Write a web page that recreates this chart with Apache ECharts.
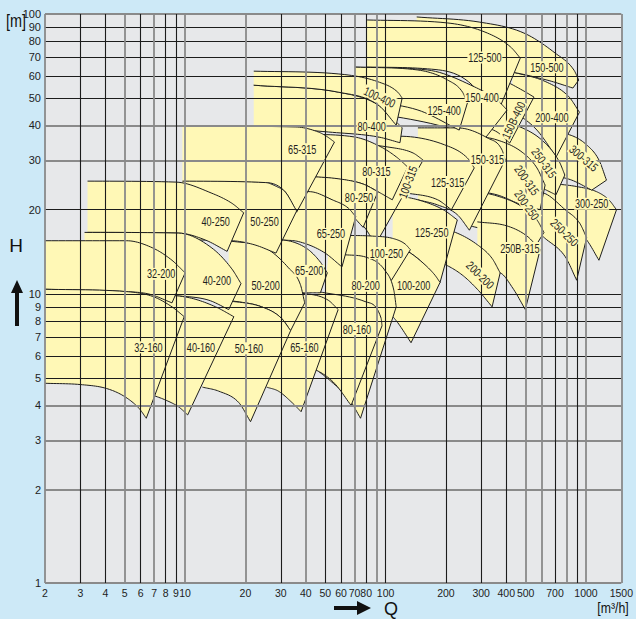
<!DOCTYPE html>
<html><head><meta charset="utf-8">
<script src="https://cdn.jsdelivr.net/npm/echarts@6/dist/echarts.min.js"></script>
<style>html,body{margin:0;padding:0;background:#cde9f7;}#c{width:636px;height:619px;}</style>
</head><body><div id="c"></div>
<script>
// ---------- axis ticks ----------
const xDarkLines = [3,4,6,8,9,30,50,60,80,100,200,300,400,700,900];
const xLightLines = [2,5,7,10,20,40,70,90,500,600,800,1000,1500];
const xLabelValues = [2,3,4,5,6,7,8,9,10,20,30,40,50,60,70,80,100,200,300,400,500,700,1000,1500];
const yDarkLines = [5,6,7,8,9,10,20,50,60,70,80,90];
const yLightLines = [1,2,3,4,30,40,100];
const yLabelValues = [1,2,3,4,5,6,7,8,9,10,20,30,40,50,60,70,80,90,100];

// ---------- pump operating fields: Q [m3/h], H [m] ----------
const names = ['32-160','32-200','40-160','40-200','40-250','50-160','50-200','50-250','65-160','65-200','65-250','65-315',
 '80-160','80-200','80-250','80-315','100-315','100-250','100-200','125-250','125-315','150-315','200-200','200-250',
 '250B-315','250-250','300-250','300-315','250-315','200-315','80-400','100-400','125-400','150-400','150B-400','200-400','125-500','150-500'];
const tops = [
 [[2,10.4],[5.1,10.2],[6.9,9.8],[8.6,9.0],[9.9,8.3]],
 [[2,15.5],[5.1,15.5],[6.9,14.6],[8.6,13.2],[10.0,11.9]],
 [[6.6,10.0],[10.5,9.7],[14.2,9.0],[17.5,8.3]],
 [[3.15,16.6],[9.3,16.5],[13.6,14.6],[17.1,12.3],[19.0,10.9]],
 [[3.26,25.3],[9.0,25.1],[13.6,22.9],[17.1,21.1],[19.6,19.5]],
 [[15.6,9.5],[24.1,9.0],[30.2,8.2],[33.6,7.4]],
 [[16.5,15.5],[25.2,14.6],[32.8,12.4],[37.6,10.8],[39.5,9.3]],
 [[9.7,25.3],[25.2,25.0],[28.6,24.2],[31.5,23.2],[36.0,19.8]],
 [[30.6,10.1],[41.2,10.0],[51.8,9.5],[58,8.8]],
 [[24.6,15.6],[29.5,15.6],[40.1,14.6],[47.3,13.0],[51.2,11.9]],
 [[30.6,23.3],[42.1,23.2],[54.2,21.7],[65,20.3],[71,18.9]],
 [[9.7,39.8],[35.7,39.5],[46.2,37.9],[50.7,36.6],[55.6,34.9]],
 [[46.2,10.2],[79,9.4],[95,8.2],[96,7.7]],
 [[51.8,13.9],[63.5,13.8],[80.9,13.5],[98.8,12.2],[110,10.3],[113,9.0]],
 [[36.7,26.4],[58,25.8],[77.3,24.7],[91.6,23.2]],
 [[36.7,37.3],[69.6,36.4],[95,33.5],[115,30.6],[129,28.4]],
 [[51.8,34.9],[102.7,33.5],[137,31.9],[154,30.1]],
 [[61.5,16.2],[86,16.1],[108.5,15.8],[125,15.1],[133,14.4]],
 [[99,14.8],[124,14.4],[152,13.0],[176,11.7],[187,11.0]],
 [[108.5,22.6],[145,21.7],[194,20.0],[228,18.4]],
 [[91.6,36.4],[117,36.6],[197,34.1],[256,30.6],[277,28.2]],
 [[145,39.2],[228,39.2],[322,36.1],[381,32.7],[395,30.1]],
 [[182,17.2],[223,16.6],[287,15.0],[340,13.4],[373,11.9]],
 [[256,23.5],[360,22.4],[480,20.5],[569,18.4],[617,16.6]],
 [[287,18.1],[404,17.5],[508,16.1],[590,14.4]],
 [[453,23.5],[618,22.9],[787,20.0],[930,17.9],[1007,15.9]],
 [[638,24.9],[898,24.2],[1129,23.2],[1300,21.7],[1419,20.0]],
 [[676,37.6],[830,37.0],[1007,34.1],[1160,30.1],[1265,25.5]],
 [[322,41.8],[469,39.5],[617,34.9],[737,29.6],[784,26.6]],
 [[256,37.0],[360,35.5],[480,32.1],[569,28.2],[625,24.5]],
 [[22,55.7],[58,52.6],[91.6,47.4],[113,41.2],[121,39.2]],
 [[22,62.5],[58,61.1],[91.6,57.3],[115,52.6],[121,50.1]],
 [[70.5,64.6],[145,63.1],[204,58.1],[242,52.6],[256,48.1]],
 [[70.5,64.6],[162,63.1],[278,54.9],[360,49.3],[404,45.4]],
 [[287,60.5],[381,58.1],[480,53.5],[550,50.5]],
 [[430,62.1],[630,57.3],[822,50.6],[927,44.6]],
 [[80.9,95.2],[204,92.9],[322,85.5],[421,76.2],[470,69.6]],
 [[143,97.6],[293,93.6],[490,85.5],[700,72.6],[870,63.1],[920,58.1]]
];
const bots = [
 [[2,4.8],[3.0,4.75],[4.05,4.6],[5.0,4.3],[5.9,3.9],[6.4,3.6]],
 [[2,10.4],[5.1,10.2],[6.6,10.0],[8.6,9.3]],
 [[6.6,4.4],[8.0,4.18],[9.3,3.95],[10.3,3.7]],
 [[3.15,10.0],[10.0,9.8],[13.15,9.5],[16.5,8.8]],
 [[3.26,16.6],[9.3,16.5],[12.6,15.6],[16.2,14.2]],
 [[12.2,4.65],[14.7,4.5],[18.5,4.1],[21.2,3.5]],
 [[16.5,9.5],[24.1,9.0],[30.2,8.2],[33.6,7.4]],
 [[9.7,15.6],[17.1,15.5],[22.1,15.0],[28.4,14.0]],
 [[25.5,4.65],[29.2,4.5],[34.1,4.1],[37.9,3.8]],
 [[24.6,10.1],[30.6,10.1],[39.4,10.1],[47.3,10.1]],
 [[30.2,15.6],[36.7,15.4],[49.2,14.1],[60.6,12.5]],
 [[9.7,25.1],[25.2,25.0],[31.5,23.2],[36.0,19.6]],
 [[38.5,5.5],[46.2,5.3],[55.6,4.8],[67.3,4.0]],
 [[46.2,5.3],[53,4.9],[66,4.2],[75,3.6]],
 [[36.7,23.3],[51.8,22.0],[65,19.7],[77.3,17.3]],
 [[36.7,26.4],[58,25.7],[77.3,24.7],[91.6,23.2],[108,21.7]],
 [[51.8,20.8],[65,19.7],[79,17.2],[89,15.0]],
 [[61.5,13.0],[81.7,12.3],[107,11.2]],
 [[99,8.8],[107,8.4],[115,7.9],[134,6.7]],
 [[108.5,14.7],[124,14.4],[152,13.0],[187,11.0]],
 [[91.6,23.5],[129,22.9],[182,21.7],[213,20.0]],
 [[145,21.7],[182,20.8],[228,19.2],[262,16.9]],
 [[182,13.0],[200,12.7],[241,11.7],[287,10.4],[340,9.0]],
 [[256,17.6],[360,16.6],[480,15.6],[569,15.1]],
 [[287,12.2],[373,11.9],[431,10.5],[498,8.8]],
 [[453,17.6],[557,16.9],[625,15.8],[787,13.6],[898,11.2]],
 [[638,19.7],[802,18.1],[1007,15.6],[1160,13.2]],
 [[676,26.6],[850,25.5],[1068,23.5]],
 [[322,27.7],[453,26.0],[603,23.9],[708,22.6]],
 [[256,23.5],[360,22.6],[480,20.8],[590,20.0]],
 [[22,39.8],[51.8,37.9],[91.6,36.4],[118,34.7]],
 [[22,55.7],[58,52.6],[91.6,47.4],[113,40.1]],
 [[70.5,49.3],[145,45.4],[233,38.5]],
 [[70.5,45.4],[182,40.1],[309,35.5]],
 [[287,40.1],[360,37.9],[416,34.6]],
 [[430,45.4],[569,38.5],[710,30.9]],
 [[80.9,64.6],[162,63.7],[271,55.7],[350,41.8]],
 [[143,64.6],[360,63.1],[638,58.1],[860,54.4]]
];
// label anchor [Q, H] and text angle (deg, counter-clockwise)
const labelAt = [[6.56,6.45],[7.6,11.8],[12.0,6.45],[14.4,11.2],[14.2,18.1],[20.8,6.4],[25.2,10.7],[24.9,18.1],[39.4,6.45],[41.6,12.1],[53.4,16.4],[38.4,32.9],
 [72,7.5],[79.5,10.7],[73.7,22.2],[90,27.3],[129,25.1],[101,14.0],[138,10.7],[170,16.6],[204,25.1],[322,30.2],[297,11.7],[508,20.8],
 [468,14.6],[782,16.6],[1067,21.0],[975,30.6],[618,29.4],[508,25.5],[85.2,39.8],[93.5,50.5],[196,45.4],[303,50.5],[434,41.8],[676,42.8],[313,70],[638,64.6]];
const labelRot = [0,0,0,0,0,0,0,0,0,0,0,0, 0,0,0,0,70,0,0,0,0,0,-45,-55, 0,-45,0,-40,-55,-55,0,-25,0,0,65,0,0,0];

// ---------- styles ----------
const YELLOW = '#fff8b6', PLOT = '#e7e8ea', BG = '#cde9f7';
const DARK = '#1c1c1c', LIGHT = '#8a8a8a';
const FONT = "'Liberation Sans',Arial,sans-serif";
const NARROW_X = 0.76;
const lg = Math.log10;
const X_MIN = lg(2), X_MAX = lg(1500), Y_MIN = -0.032, Y_MAX = 2;
const yPos = v => v === 1 ? Y_MIN : lg(v);
const fmt = v => String(Math.round(Math.pow(10, v)));

function monoSample(pts, steps) {
  const n = pts.length;
  if (n < 3) return pts.slice();
  const xs = pts.map(p => p[0]), ys = pts.map(p => p[1]);
  const d = [], m = new Array(n);
  for (let i = 0; i < n - 1; i++) { const dx = xs[i+1] - xs[i]; d.push(Math.abs(dx) < 1e-6 ? 0 : (ys[i+1] - ys[i]) / dx); }
  m[0] = d[0]; m[n-1] = d[n-2];
  for (let i = 1; i < n - 1; i++) m[i] = (d[i-1] * d[i] <= 0) ? 0 : (d[i-1] + d[i]) / 2;
  for (let i = 0; i < n - 1; i++) {
    if (d[i] === 0) { m[i] = 0; m[i+1] = 0; continue; }
    const a = m[i] / d[i], b = m[i+1] / d[i], s = a*a + b*b;
    if (s > 9) { const t = 3 / Math.sqrt(s); m[i] = t*a*d[i]; m[i+1] = t*b*d[i]; }
  }
  const out = [];
  for (let i = 0; i < n - 1; i++) {
    const h = xs[i+1] - xs[i];
    for (let k = 0; k < steps; k++) {
      const t = k / steps, t2 = t*t, t3 = t2*t;
      out.push([xs[i] + t*h, (2*t3-3*t2+1)*ys[i] + (t3-2*t2+t)*h*m[i] + (-2*t3+3*t2)*ys[i+1] + (t3-t2)*h*m[i+1]]);
    }
  }
  out.push(pts[n-1]);
  return out;
}

const order = names.map((_, i) => i).sort((a, b) => tops[b][tops[b].length-1][0] - tops[a][tops[a].length-1][0]);

const chart = echarts.init(document.getElementById('c'), null, {renderer: 'svg'});
chart.setOption({
  backgroundColor: BG,
  animation: false,
  grid: {left: 45, right: 11, top: 14, bottom: 36, show: true, backgroundColor: PLOT, borderWidth: 0},
  xAxis: [{
    type: 'value', min: X_MIN, max: X_MAX, z: 3,
    axisLine: {show: false},
    axisTick: {show: false, customValues: xDarkLines.map(lg)},
    axisLabel: {customValues: xLabelValues.map(lg), formatter: fmt, color: '#222', fontSize: 10.5, fontFamily: FONT, margin: 4},
    splitLine: {show: true, lineStyle: {color: DARK, width: 1.1}}
  }, {
    type: 'value', min: X_MIN, max: X_MAX, z: 3, position: 'top',
    axisLine: {show: false},
    axisTick: {show: false, customValues: xLightLines.map(lg)},
    axisLabel: {show: false},
    splitLine: {show: true, lineStyle: {color: LIGHT, width: 1.8}}
  }],
  yAxis: [{
    type: 'value', min: Y_MIN, max: Y_MAX, z: 3,
    axisLine: {show: false},
    axisTick: {show: false, customValues: yDarkLines.map(yPos)},
    axisLabel: {customValues: yLabelValues.map(yPos), formatter: fmt, color: '#222', fontSize: 11, fontFamily: FONT, margin: 4},
    splitLine: {show: true, lineStyle: {color: DARK, width: 1.1}}
  }, {
    type: 'value', min: Y_MIN, max: Y_MAX, z: 3, position: 'right',
    axisLine: {show: false},
    axisTick: {show: false, customValues: yLightLines.map(yPos)},
    axisLabel: {show: false},
    splitLine: {show: true, lineStyle: {color: LIGHT, width: 1.8}}
  }],
  graphic: [
    {type: 'text', x: 6, y: 11, scaleX: 0.8, style: {text: '[m]', font: '18px ' + FONT, fill: '#111', verticalAlign: 'top'}},
    {type: 'text', x: 16, y: 245, style: {text: 'H', font: '19px ' + FONT, fill: '#111', align: 'center', verticalAlign: 'middle'}},
    {type: 'polygon', shape: {points: [[17,280],[23,293],[19,293],[19,326],[15,326],[15,293],[11,293]]}, style: {fill: '#111'}},
    {type: 'polygon', shape: {points: [[371,608],[357,601],[357,606],[334,606],[334,610],[357,610],[357,615]]}, style: {fill: '#111'}},
    {type: 'text', x: 391, y: 609, style: {text: 'Q', font: '18px ' + FONT, fill: '#111', align: 'center', verticalAlign: 'middle'}},
    {type: 'text', x: 613, y: 608, scaleX: 0.82, style: {text: '[m³/h]', font: '15px ' + FONT, fill: '#111', align: 'center', verticalAlign: 'middle'}}
  ],
  series: [
    {
      type: 'custom', coordinateSystem: 'cartesian2d', xAxisIndex: 0, yAxisIndex: 0, z: 2, clip: true,
      data: order.map(i => [i]),
      renderItem: (params, api) => {
        const i = api.value(0);
        const toPx = p => api.coord([lg(p[0]), lg(p[1])]);
        const T = monoSample(tops[i].map(toPx), 12);
        const B = monoSample(bots[i].map(toPx), 12);
        const poly = T.concat(B.slice().reverse());
        return {type: 'group', children: [
          {type: 'polygon', shape: {points: poly}, style: {fill: YELLOW, stroke: null}},
          {type: 'polyline', shape: {points: poly}, style: {fill: null, stroke: '#1e1e1e', lineWidth: 1}}
        ]};
      }
    },
    {
      type: 'custom', coordinateSystem: 'cartesian2d', xAxisIndex: 0, yAxisIndex: 0, z: 5, clip: false,
      data: names.map((_, i) => [i]),
      renderItem: (params, api) => {
        const i = api.value(0);
        const p = api.coord([lg(labelAt[i][0]), lg(labelAt[i][1])]);
        return {type: 'text', x: p[0], y: p[1], rotation: labelRot[i] * Math.PI / 180, scaleX: NARROW_X,
          style: {text: names[i], font: '12px ' + FONT, fill: '#1e1e1e', align: 'center', verticalAlign: 'middle',
            backgroundColor: YELLOW, padding: [0, 1]}};
      }
    }
  ]
});
</script></body></html>
